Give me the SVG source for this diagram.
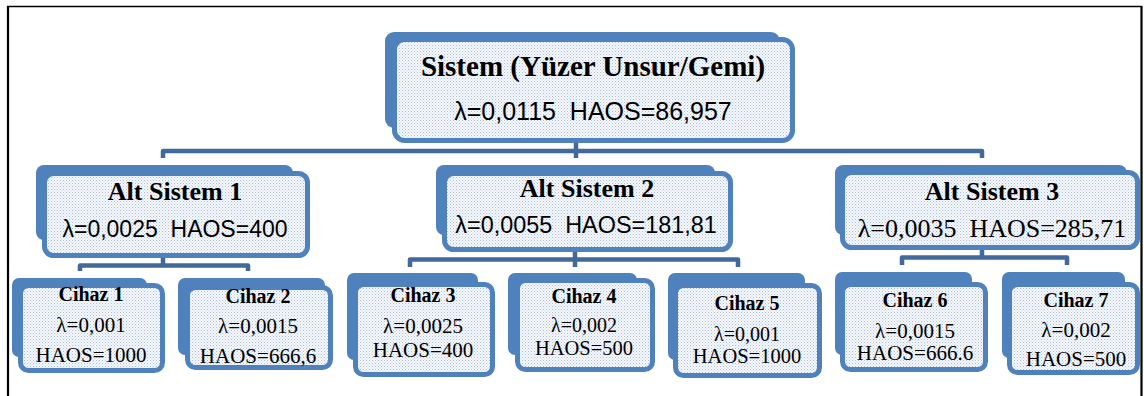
<svg xmlns="http://www.w3.org/2000/svg" width="1144" height="396" viewBox="0 0 1144 396">
  <defs>
    <!-- fine halftone fill used inside every box -->
    <pattern id="dots" width="3" height="3" patternUnits="userSpaceOnUse">
      <rect width="3" height="3" fill="#f4f7fb"/>
      <rect x="0" y="0" width="1" height="1" fill="#adbfd9"/>
      <rect x="1.5" y="1.5" width="1" height="1" fill="#c9d5e6"/>
    </pattern>
    <style>
      .back { fill: #4f81bd; }
      .front { fill: url(#dots); stroke: #4f81bd; stroke-width: 5; }
      .link { fill: none; stroke: #41699b; stroke-width: 4.5; stroke-linejoin: round; }
      .frame { fill: none; stroke: #000; }
      .tb { font-family: "Liberation Serif", "Times New Roman", serif; font-weight: bold; fill: #000; text-anchor: middle; }
      .tr { font-family: "Liberation Serif", "Times New Roman", serif; fill: #000; text-anchor: middle; }
      .ts { font-family: "Liberation Sans", Arial, sans-serif; fill: #000; text-anchor: middle; }
    </style>
  </defs>

  <rect width="1144" height="396" fill="#fff"/>

  <!-- page frame (open at the bottom) -->
  <path class="frame" d="M7,6.5 H1142" stroke-width="1.5"/>
  <path class="frame" d="M8,6 V396" stroke-width="2.2"/>

  <!-- connectors -->
  <g id="connectors">
    <path class="link" d="M576,143 V151"/>
    <path class="link" d="M163,158 V151 H982 V158"/>
    <path class="link" d="M576,151 V158"/>

    <path class="link" d="M163,258 V265.5"/>
    <path class="link" d="M80,271 V265.5 H248 V271"/>

    <path class="link" d="M575,252 V259.5"/>
    <path class="link" d="M410,267 V259.5 H738 V267"/>
    <path class="link" d="M575,259.5 V267"/>

    <path class="link" d="M982,250 V257.5"/>
    <path class="link" d="M902,265 V257.5 H1067 V265"/>
  </g>

  <!-- top level -->
  <g id="sistem">
    <rect class="back" x="385" y="32" width="395" height="96" rx="9"/>
    <rect class="front" x="394.5" y="39.5" width="398" height="101" rx="10"/>
    <text class="tb" x="593" y="76" font-size="29">Sistem (Yüzer Unsur/Gemi)</text>
    <text class="ts" x="593" y="120" font-size="25" xml:space="preserve">λ=0,0115  HAOS=86,957</text>
  </g>

  <!-- subsystems -->
  <g id="alt-sistem-1">
    <rect class="back" x="36" y="165" width="257" height="75" rx="8"/>
    <rect class="front" x="44.5" y="173.5" width="263" height="82" rx="9"/>
    <text class="tb" x="175" y="200" font-size="26">Alt Sistem 1</text>
    <text class="ts" x="175" y="237" font-size="23" xml:space="preserve">λ=0,0025  HAOS=400</text>
  </g>

  <g id="alt-sistem-2">
    <rect class="back" x="436" y="165" width="279" height="70" rx="8"/>
    <rect class="front" x="444.5" y="173.5" width="286" height="76" rx="9"/>
    <text class="tb" x="587" y="197" font-size="26">Alt Sistem 2</text>
    <text class="ts" x="586" y="233" font-size="23.4" xml:space="preserve">λ=0,0055  HAOS=181,81</text>
  </g>

  <g id="alt-sistem-3">
    <rect class="back" x="835" y="165" width="292" height="70" rx="8"/>
    <rect class="front" x="842.5" y="172.5" width="295" height="75" rx="9"/>
    <text class="tb" x="992" y="200" font-size="26">Alt Sistem 3</text>
    <text class="tr" x="992" y="237" font-size="26" xml:space="preserve">λ=0,0035  HAOS=285,71</text>
  </g>

  <!-- devices -->
  <g id="cihaz-1">
    <rect class="back" x="12" y="278" width="135" height="79" rx="7"/>
    <rect class="front" x="20.5" y="285.5" width="142" height="85" rx="8"/>
    <text class="tb" x="91" y="301" font-size="20">Cihaz 1</text>
    <text class="tr" x="91" y="332" font-size="21">λ=0,001</text>
    <text class="tr" x="91" y="362" font-size="21">HAOS=1000</text>
  </g>

  <g id="cihaz-2">
    <rect class="back" x="178" y="278" width="147" height="77" rx="7"/>
    <rect class="front" x="187.5" y="287.5" width="143" height="80" rx="8"/>
    <text class="tb" x="258" y="303" font-size="20">Cihaz 2</text>
    <text class="tr" x="258" y="333" font-size="21">λ=0,0015</text>
    <text class="tr" x="258" y="363" font-size="21">HAOS=666,6</text>
  </g>

  <g id="cihaz-3">
    <rect class="back" x="347" y="273" width="131" height="87" rx="7"/>
    <rect class="front" x="355.5" y="284.5" width="137" height="90" rx="8"/>
    <text class="tb" x="423" y="302" font-size="20">Cihaz 3</text>
    <text class="tr" x="423" y="333" font-size="21">λ=0,0025</text>
    <text class="tr" x="423" y="357" font-size="21">HAOS=400</text>
  </g>

  <g id="cihaz-4">
    <rect class="back" x="508" y="273" width="129" height="82" rx="7"/>
    <rect class="front" x="517.5" y="280.5" width="135" height="89" rx="8"/>
    <text class="tb" x="584" y="303" font-size="20">Cihaz 4</text>
    <text class="tr" x="584" y="332" font-size="20">λ=0,002</text>
    <text class="tr" x="584" y="355" font-size="20.5">HAOS=500</text>
  </g>

  <g id="cihaz-5">
    <rect class="back" x="668" y="273" width="137" height="87" rx="7"/>
    <rect class="front" x="675.5" y="285.5" width="144" height="90" rx="8"/>
    <text class="tb" x="747" y="310" font-size="20">Cihaz 5</text>
    <text class="tr" x="747" y="341" font-size="20">λ=0,001</text>
    <text class="tr" x="747" y="363" font-size="20.5">HAOS=1000</text>
  </g>

  <g id="cihaz-6">
    <rect class="back" x="835" y="272" width="137" height="83" rx="7"/>
    <rect class="front" x="842.5" y="284.5" width="143" height="85" rx="8"/>
    <text class="tb" x="915" y="307" font-size="20">Cihaz 6</text>
    <text class="tr" x="915" y="338" font-size="21">λ=0,0015</text>
    <text class="tr" x="915" y="360" font-size="21">HAOS=666.6</text>
  </g>

  <g id="cihaz-7">
    <rect class="back" x="1002" y="272" width="123" height="86" rx="7"/>
    <rect class="front" x="1009.5" y="284.5" width="128" height="88" rx="8"/>
    <text class="tb" x="1076" y="307" font-size="20">Cihaz 7</text>
    <text class="tr" x="1076" y="337" font-size="21">λ=0,002</text>
    <text class="tr" x="1076" y="366" font-size="21">HAOS=500</text>
  </g>

  <!-- right frame edge drawn last so it sits over the rightmost boxes -->
  <path class="frame" d="M1141.5,6 V396" stroke-width="2.2"/>
</svg>
